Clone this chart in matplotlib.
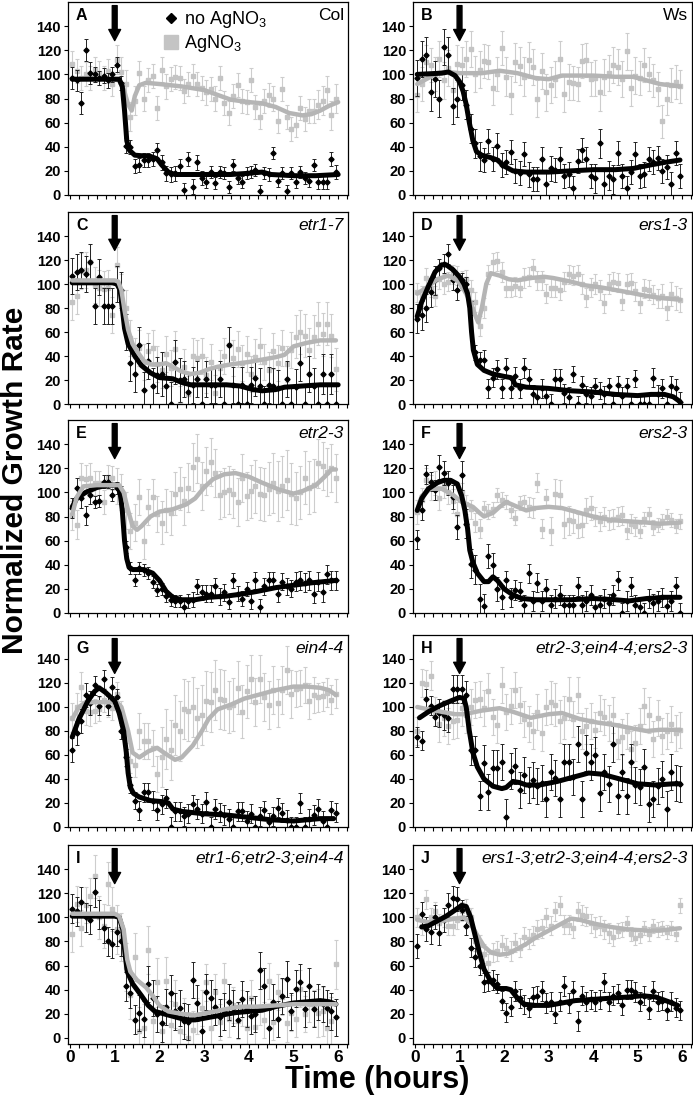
import numpy as np
import matplotlib.pyplot as plt
from matplotlib.lines import Line2D
from matplotlib.ticker import MultipleLocator

plt.rcParams['font.family'] = ['Liberation Sans', 'DejaVu Sans']
plt.rcParams['mathtext.default'] = 'regular'

W, H = 693, 1098

# one reading every 6 min
t = np.arange(0.05, 6.0, 0.1)

# ---- A: Col ----
a_dark = [97, 95, 76, 120, 101, 100, 97, 99, 95, 100,
          108, 93, 41, 40, 24, 25, 29, 29, 30, 37,
          27, 18, 17, 18, 24, 4, 30, 7, 27, 14,
          11, 19, 10, 19, 18, 7, 25, 14, 11, 18,
          19, 21, 3, 18, 17, 35, 12, 18, 3, 18,
          11, 19, 14, 12, 25, 11, 11, 11, 30, 19]
a_dark_err = [9, 6, 6, 6, 6, 6, 5, 5, 5, 5, 5, 6]
a_grey = [109, 103, 97, 100, 97, 104, 101, 97, 103, 92,
          112, 102, 92, 65, 78, 101, 80, 95, 99, 72,
          104, 90, 96, 98, 97, 86, 92, 99, 92, 89,
          85, 88, 80, 97, 76, 68, 82, 91, 78, 77,
          95, 73, 65, 78, 83, 80, 61, 88, 65, 55,
          58, 72, 63, 70, 70, 75, 78, 87, 66, 80]
a_grey_err = [10, 10, 12, 10, 10, 10, 10, 10, 10, 10, 10, 12]
a_dark_fit_t = [0.05, 1.1, 1.17, 1.22, 1.27, 1.33, 1.45, 1.8, 1.95, 2.05, 2.2, 2.35, 3.0, 3.6, 4.0, 4.3, 4.5, 5.0, 5.5, 6.0]
a_dark_fit = [96, 96, 90, 70, 45, 37, 33, 32, 30, 25, 19, 17, 17, 17, 18, 19, 17, 16, 16, 17]
a_grey_fit_t = [0.95, 1.1, 1.2, 1.3, 1.38, 1.45, 1.55, 1.7, 2.0, 2.5, 3.0, 3.3, 3.6, 4.0, 4.3, 4.6, 4.9, 5.2, 5.4, 5.6, 5.8, 6.0]
a_grey_fit = [96, 95, 88, 75, 70, 82, 91, 93, 92, 90, 87, 83, 79, 77, 76, 73, 68, 66, 67, 70, 74, 77]

# ---- B: Ws ----
b_dark = [97, 113, 116, 85, 96, 80, 123, 116, 74, 80,
          91, 75, 55, 43, 32, 29, 45, 30, 41, 25,
          27, 36, 20, 18, 34, 17, 13, 13, 30, 9,
          22, 21, 30, 16, 17, 6, 28, 37, 30, 16,
          14, 43, 9, 16, 13, 35, 16, 6, 19, 34,
          16, 17, 30, 27, 31, 20, 23, 9, 35, 16]
b_dark_err = [15, 15, 12, 10, 10, 10, 10, 10, 12, 10, 10, 10]
b_grey = [83, 92, 110, 108, 100, 113, 95, 105, 87, 109,
          108, 113, 121, 100, 104, 111, 110, 89, 100, 122,
          98, 83, 110, 107, 98, 112, 106, 80, 103, 85,
          91, 96, 113, 84, 94, 93, 92, 111, 112, 96,
          97, 85, 98, 101, 108, 106, 96, 119, 89, 99,
          97, 108, 100, 95, 88, 61, 80, 91, 94, 90]
b_grey_err = [14, 15, 15, 14, 16, 15, 15, 14, 15, 15, 14, 14]
b_dark_fit_t = [0.05, 0.6, 0.75, 0.9, 1.0, 1.08, 1.15, 1.22, 1.3, 1.38, 1.5, 1.7, 1.85, 2.0, 2.2, 2.5, 3.0, 3.5, 4.0, 4.5, 4.9, 5.3, 5.6, 5.95]
b_dark_fit = [100, 101, 102, 99, 94, 86, 75, 60, 45, 36, 33, 31, 29, 24, 20, 19, 19, 20, 21, 21, 22, 25, 27, 29]
b_grey_fit_t = [0.05, 0.3, 0.5, 0.7, 1.0, 1.5, 1.9, 2.3, 2.7, 3.0, 3.3, 4.0, 4.5, 4.9, 5.2, 5.5, 5.95]
b_grey_fit = [92, 97, 101, 102, 101, 101, 103, 101, 97, 96, 99, 99, 98, 98, 95, 92, 90]

# ---- C: etr1-7 ----
c_dark = [107, 110, 112, 108, 118, 82, 106, 82, 82, 82,
          100, 95, 60, 34, 25, 49, 12, 36, 15, 24,
          25, 15, 0, 35, 20, 21, 10, 16, 21, 0,
          21, 16, 16, 21, 0, 49, 16, 0, 16, 0,
          16, 22, 15, 0, 16, 15, 13, 0, 21, 0,
          14, 34, 0, 25, 15, 0, 25, 0, 25, 0]
c_dark_err = [15, 15, 15, 15, 18, 15, 15, 15, 15, 15, 15, 17]
c_grey = [85, 90, 111, 112, 118, 99, 97, 96, 97, 74,
          116, 93, 80, 55, 40, 47, 35, 44, 47, 33,
          28, 42, 30, 46, 0, 31, 8, 40, 38, 40,
          24, 35, 9, 30, 40, 49, 38, 46, 34, 42,
          25, 39, 48, 35, 28, 44, 34, 47, 33, 45,
          56, 60, 57, 45, 56, 67, 58, 67, 57, 29]
c_grey_err = [15, 15, 15, 15, 15, 15, 15, 15, 15, 15, 18, 18]
c_dark_fit_t = [0.05, 0.95, 1.05, 1.12, 1.17, 1.22, 1.3, 1.45, 1.6, 1.8, 2.0, 2.3, 2.5, 2.7, 3.0, 3.5, 3.8, 4.1, 4.3, 4.6, 4.8, 5.2, 5.6, 6.0]
c_dark_fit = [101, 101, 100, 95, 80, 63, 50, 40, 32, 26, 22, 21, 18, 16, 16, 16, 15, 12, 11, 12, 14, 15, 16, 16]
c_grey_fit_t = [0.05, 1.0, 1.08, 1.15, 1.22, 1.3, 1.4, 1.5, 1.65, 1.8, 2.0, 2.15, 2.3, 2.5, 2.7, 2.9, 3.1, 3.3, 3.6, 4.0, 4.3, 4.6, 4.8, 5.0, 5.3, 5.6, 5.95]
c_grey_fit = [103, 103, 102, 95, 78, 62, 50, 44, 36, 33, 33, 34, 31, 27, 25, 26, 29, 31, 33, 35, 37, 39, 41, 48, 51, 53, 53]

# ---- D: ers1-3 ----
d_dark = [71, 74, 80, 93, 103, 113, 117, 125, 103, 95,
          103, 100, 80, 43, 37, 37, 13, 22, 29, 13,
          30, 13, 23, 13, 30, 21, 8, 6, 13, 7,
          0, 21, 21, 9, 6, 25, 0, 16, 8, 7,
          15, 11, 8, 15, 0, 16, 7, 15, 0, 21,
          0, 0, 0, 22, 8, 13, 0, 15, 13, 2]
d_dark_err = [12, 8, 6, 8, 8, 8, 8, 7, 7, 7, 8, 8]
d_grey = [93, 90, 105, 97, 90, 104, 100, 102, 108, 107,
          103, 104, 95, 85, 65, 80, 108, 118, 119, 110,
          97, 97, 98, 97, 105, 106, 113, 103, 103, 92,
          97, 97, 95, 102, 108, 107, 108, 100, 89, 97,
          100, 95, 84, 100, 102, 101, 86, 100, 101, 94,
          84, 96, 95, 91, 88, 90, 80, 92, 88, 87]
d_grey_err = [8, 8, 8, 8, 8, 8, 8, 8, 8, 8, 8, 10]
d_dark_fit_t = [0.05, 0.15, 0.3, 0.45, 0.6, 0.7, 0.85, 1.0, 1.1, 1.18, 1.23, 1.27, 1.31, 1.4, 1.55, 1.75, 2.0, 2.15, 2.2, 2.25, 2.5, 3.0, 3.5, 4.0, 4.5, 5.0, 5.3, 5.6, 5.8, 5.95]
d_dark_fit = [73, 85, 98, 110, 116, 116, 112, 106, 100, 92, 80, 60, 45, 33, 28, 25, 23, 22, 20, 16, 14, 13, 11, 10, 8, 7, 8, 8, 6, 2]
d_grey_fit_t = [0.05, 0.3, 0.5, 0.75, 0.95, 1.1, 1.25, 1.35, 1.42, 1.5, 1.6, 1.7, 1.9, 2.1, 2.3, 2.6, 2.9, 3.1, 3.5, 3.8, 4.2, 4.5, 4.8, 5.2, 5.6, 5.95]
d_grey_fit = [92, 98, 104, 107, 103, 95, 85, 74, 68, 80, 100, 109, 107, 104, 103, 105, 106, 105, 102, 99, 97, 95, 93, 90, 88, 87]

# ---- E: etr2-3 ----
e_dark = [87, 104, 95, 81, 98, 92, 93, 109, 109, 98,
          104, 100, 55, 37, 27, 37, 36, 33, 26, 19,
          20, 14, 11, 10, 10, 5, 10, 11, 22, 17,
          16, 16, 22, 14, 17, 9, 27, 16, 12, 20,
          10, 27, 5, 22, 27, 27, 16, 26, 22, 20,
          26, 27, 25, 27, 16, 26, 17, 32, 27, 27]
e_dark_err = [8, 5, 5, 5, 5, 6, 7, 6, 7, 7, 8, 8]
e_grey = [81, 73, 112, 111, 112, 108, 108, 92, 113, 112,
          105, 100, 85, 68, 75, 96, 60, 88, 96, 82,
          75, 85, 83, 99, 103, 93, 104, 121, 128, 105,
          118, 125, 116, 98, 100, 102, 99, 92, 112, 97,
          101, 105, 99, 98, 103, 108, 101, 105, 110, 99,
          95, 100, 112, 104, 106, 124, 122, 117, 120, 112]
e_grey_err = [12, 10, 15, 15, 18, 20, 20, 20, 22, 25, 22, 20]
e_dark_fit_t = [0.05, 0.15, 0.35, 0.6, 0.85, 1.05, 1.12, 1.17, 1.22, 1.27, 1.32, 1.4, 1.65, 1.85, 2.0, 2.15, 2.3, 2.5, 2.8, 3.1, 3.5, 3.9, 4.2, 4.6, 5.0, 5.4, 5.95]
e_dark_fit = [88, 95, 100, 104, 106, 106, 100, 85, 60, 45, 38, 36, 36, 33, 27, 18, 13, 11, 11, 13, 14, 16, 18, 21, 23, 25, 27]
e_grey_fit_t = [0.05, 0.15, 0.3, 0.6, 1.1, 1.2, 1.3, 1.4, 1.5, 1.6, 1.8, 2.0, 2.3, 2.6, 2.8, 3.0, 3.2, 3.45, 3.7, 4.0, 4.3, 4.7, 5.0, 5.2, 5.5, 5.7, 5.85, 5.95]
e_grey_fit = [82, 96, 105, 106, 106, 100, 85, 72, 69, 72, 80, 84, 86, 90, 95, 104, 111, 115, 116, 113, 108, 102, 99, 101, 106, 113, 119, 119]

# ---- F: ers2-3 ----
f_dark = [61, 85, 115, 109, 102, 121, 116, 108, 96, 71,
          114, 74, 41, 36, 12, 6, 47, 40, 20, 13,
          27, 13, 19, 18, 7, 33, 10, 25, 10, 20,
          7, 12, 15, 7, 7, 7, 22, 7, 10, 15,
          5, 7, 12, 8, 15, 27, 0, 10, 22, 7,
          5, 0, 12, 8, 10, 13, 6, 10, 22, 0]
f_dark_err = [8, 10, 12, 10, 8, 8, 8, 8, 8, 8, 8, 8]
f_grey = [84, 94, 110, 104, 108, 95, 105, 100, 93, 82,
          100, 90, 86, 75, 70, 87, 84, 86, 98, 94,
          92, 85, 79, 91, 92, 88, 87, 108, 70, 95,
          68, 99, 98, 74, 77, 76, 72, 73, 85, 87,
          80, 76, 80, 77, 78, 80, 81, 69, 74, 72,
          68, 78, 82, 71, 73, 76, 80, 77, 72, 76]
f_grey_err = [10, 10, 8, 6, 6, 8, 12, 10, 8, 8, 6, 6]
f_dark_fit_t = [0.05, 0.15, 0.3, 0.5, 0.65, 0.8, 0.95, 1.05, 1.12, 1.18, 1.23, 1.3, 1.4, 1.55, 1.65, 1.75, 1.85, 2.0, 2.2, 2.4, 2.7, 3.5, 4.0, 4.5, 4.8, 5.2, 5.6, 5.95]
f_dark_fit = [85, 95, 103, 108, 110, 110, 107, 97, 85, 70, 52, 42, 33, 26, 26, 30, 27, 20, 15, 12, 11, 11, 12, 11, 10, 12, 13, 13]
f_grey_fit_t = [0.05, 0.15, 0.35, 0.6, 0.85, 1.05, 1.3, 1.45, 1.55, 1.75, 1.9, 2.05, 2.3, 2.5, 2.7, 3.0, 3.3, 3.6, 4.0, 4.4, 4.8, 5.2, 5.5, 5.95]
f_grey_fit = [85, 97, 103, 103, 98, 92, 88, 83, 80, 83, 88, 92, 88, 85, 87, 88, 87, 84, 80, 77, 76, 75, 74, 75]

# ---- G: ein4-4 ----
g_dark = [64, 78, 88, 110, 103, 118, 101, 123, 101, 117,
          108, 80, 58, 35, 22, 14, 29, 29, 22, 14,
          19, 24, 0, 13, 13, 9, 11, 19, 15, 11,
          21, 0, 15, 12, 10, 7, 0, 13, 13, 5,
          11, 0, 9, 14, 4, 9, 16, 12, 6, 0,
          0, 20, 0, 7, 10, 15, 5, 0, 14, 12]
g_dark_err = [10, 8, 7, 8, 8, 8, 8, 8, 8, 8, 8, 8]
g_grey = [91, 100, 117, 97, 96, 97, 98, 106, 102, 99,
          111, 95, 60, 55, 52, 80, 72, 72, 66, 44,
          58, 73, 64, 85, 80, 98, 97, 100, 91, 93,
          105, 104, 114, 107, 106, 100, 102, 116, 96, 113,
          123, 104, 123, 108, 102, 114, 103, 114, 131, 111,
          115, 116, 118, 105, 110, 108, 109, 112, 106, 111]
g_grey_err = [12, 10, 10, 15, 25, 25, 25, 22, 20, 20, 15, 12]
g_dark_fit_t = [0.05, 0.2, 0.4, 0.55, 0.65, 0.8, 1.0, 1.1, 1.2, 1.26, 1.3, 1.35, 1.42, 1.55, 1.8, 2.1, 2.2, 2.3, 2.5, 3.0, 3.5, 4.0, 4.5, 5.0, 5.3, 5.6, 5.9]
g_dark_fit = [75, 90, 105, 113, 116, 112, 105, 95, 80, 62, 45, 33, 28, 25, 22, 21, 20, 15, 13, 11, 10, 8, 6, 5, 6, 7, 7]
g_grey_fit_t = [0.05, 0.2, 0.35, 1.05, 1.15, 1.3, 1.4, 1.55, 1.75, 1.95, 2.1, 2.35, 2.5, 2.75, 2.95, 3.1, 3.3, 3.6, 3.9, 4.2, 4.6, 5.0, 5.3, 5.6, 5.8, 5.95]
g_grey_fit = [90, 100, 104, 104, 100, 80, 62, 58, 63, 66, 62, 56, 58, 68, 80, 90, 98, 102, 107, 110, 114, 117, 117, 116, 114, 110]

# ---- H: etr2-3;ein4-4;ers2-3 ----
h_dark = [75, 72, 107, 101, 92, 95, 93, 91, 115, 115,
          115, 110, 64, 64, 26, 53, 29, 49, 49, 54,
          8, 47, 51, 31, 43, 35, 39, 34, 37, 23,
          46, 41, 23, 54, 54, 42, 69, 23, 62, 54,
          60, 28, 46, 36, 69, 26, 46, 26, 54, 35,
          33, 50, 19, 23, 34, 40, 15, 46, 37, 36]
h_dark_err = [8, 12, 12, 15, 15, 15, 15, 15, 15, 15, 15, 15]
h_grey = [80, 120, 119, 126, 96, 86, 91, 84, 88, 89,
          99, 93, 100, 106, 107, 99, 113, 92, 85, 118,
          96, 101, 114, 102, 90, 86, 80, 96, 78, 100,
          104, 102, 88, 91, 107, 90, 110, 80, 84, 88,
          81, 95, 92, 87, 93, 72, 75, 80, 65, 70,
          84, 101, 93, 73, 91, 76, 80, 86, 78, 81]
h_grey_err = [12, 15, 15, 15, 15, 15, 18, 15, 15, 15, 15, 15]
h_dark_fit_t = [0.1, 0.3, 0.55, 0.8, 1.0, 1.1, 1.15, 1.22, 1.3, 1.4, 1.55, 1.75, 1.95, 2.05, 2.2, 2.35, 2.5, 2.8, 3.2, 3.6, 3.9, 4.2, 4.6, 5.0, 5.4, 5.8, 5.95]
h_dark_fit = [91, 96, 101, 105, 108, 107, 100, 80, 62, 50, 40, 34, 32, 33, 38, 37, 35, 35, 38, 42, 45, 44, 40, 36, 35, 36, 36]
h_grey_fit_t = [0.05, 0.3, 0.6, 0.9, 1.1, 1.5, 1.9, 2.2, 2.6, 3.0, 3.3, 3.7, 4.1, 4.5, 4.9, 5.2, 5.5, 5.95]
h_grey_fit = [100, 98, 96, 94, 94, 97, 99, 96, 91, 94, 95, 90, 87, 85, 82, 80, 81, 81]

# ---- I: etr1-6;etr2-3;ein4-4 ----
i_dark = [107, 105, 113, 100, 98, 121, 102, 91, 80, 78,
          88, 80, 43, 37, 15, 21, 16, 45, 33, 20,
          12, 26, 37, 22, 25, 14, 13, 48, 29, 6,
          38, 33, 26, 17, 22, 30, 25, 15, 32, 24,
          18, 20, 56, 43, 8, 30, 16, 35, 49, 22,
          41, 46, 24, 43, 24, 30, 28, 25, 22, 17]
i_dark_err = [12, 12, 12, 15, 15, 15, 15, 15, 15, 15, 15, 15]
i_grey = [86, 111, 91, 110, 118, 134, 100, 93, 128, 107,
          90, 84, 59, 36, 67, 6, 8, 73, 14, 46,
          6, 47, 11, 28, 6, 18, 0, 7, 18, 25,
          46, 8, 38, 13, 47, 16, 27, 14, 25, 8,
          33, 9, 26, 15, 47, 13, 38, 34, 12, 21,
          16, 41, 20, 28, 25, 21, 22, 8, 14, 61]
i_grey_err = [15, 18, 20, 20, 20, 15, 15, 15, 15, 15, 15, 20]
i_dark_fit_t = [0.05, 1.0, 1.1, 1.18, 1.23, 1.28, 1.4, 1.6, 1.75, 1.9, 2.1, 2.3, 2.5, 2.65, 2.8, 3.1, 3.4, 3.7, 4.0, 4.3, 4.6, 5.0, 5.3, 5.6, 5.8, 5.95]
i_dark_fit = [101, 101, 100, 90, 70, 55, 45, 35, 27, 22, 20, 18, 16, 15, 15, 17, 19, 21, 22, 23, 26, 29, 30, 31, 30, 28]
i_grey_fit_t = [0.05, 1.0, 1.1, 1.2, 1.28, 1.35, 1.5, 1.7, 1.85, 2.0, 2.2, 2.5, 2.8, 3.1, 3.5, 3.8, 4.2, 4.6, 5.0, 5.5, 5.95]
i_grey_fit = [103, 103, 101, 90, 65, 55, 48, 42, 35, 27, 22, 20, 19, 21, 24, 26, 26, 27, 28, 28, 28]

# ---- J: ers1-3;etr2-3;ein4-4;ers2-3 ----
j_dark = [76, 103, 90, 88, 100, 87, 98, 110, 116, 115,
          106, 93, 75, 67, 60, 46, 47, 48, 45, 31,
          21, 26, 39, 33, 28, 25, 34, 35, 39, 29,
          30, 20, 30, 43, 29, 39, 14, 35, 30, 32,
          30, 32, 46, 30, 35, 37, 27, 40, 40, 38,
          30, 35, 24, 39, 30, 31, 23, 30, 25, 23]
j_dark_err = [10, 10, 8, 8, 8, 8, 8, 8, 8, 8, 8, 8]
j_grey = [100, 93, 115, 100, 105, 95, 100, 93, 93, 98,
          105, 107, 100, 80, 77, 70, 62, 71, 72, 77,
          75, 72, 79, 75, 84, 82, 85, 90, 91, 100,
          93, 105, 110, 94, 94, 91, 105, 102, 101, 95,
          92, 93, 90, 87, 84, 89, 90, 95, 86, 83,
          85, 91, 86, 93, 90, 91, 88, 91, 86, 110]
j_grey_err = [8, 8, 8, 8, 8, 8, 8, 8, 8, 6, 6, 6]
j_dark_fit_t = [0.15, 0.3, 0.5, 0.7, 0.9, 1.05, 1.15, 1.25, 1.35, 1.45, 1.55, 1.7, 1.85, 2.05, 2.15, 2.3, 2.45, 2.7, 3.0, 3.3, 3.6, 4.0, 4.4, 4.8, 5.1, 5.4, 5.7, 5.9]
j_dark_fit = [92, 93, 97, 101, 106, 110, 109, 100, 85, 70, 57, 47, 41, 41, 40, 33, 28, 27, 27, 29, 31, 32, 33, 34, 35, 34, 30, 27]
j_grey_fit_t = [0.05, 0.3, 0.6, 0.9, 1.1, 1.25, 1.4, 1.55, 1.7, 1.9, 2.1, 2.3, 2.5, 2.7, 3.0, 3.3, 3.5, 3.7, 4.0, 4.4, 4.8, 5.2, 5.5, 5.95]
j_grey_fit = [98, 96, 97, 99, 100, 95, 85, 76, 71, 69, 70, 74, 78, 83, 89, 95, 99, 98, 95, 92, 90, 89, 89, 91]

# letter, genotype, italic, grey line on top, data...
panels = [
    ('A', 'Col', False, False, a_dark, a_dark_err, a_grey, a_grey_err, a_dark_fit_t, a_dark_fit, a_grey_fit_t, a_grey_fit),
    ('B', 'Ws', False, False, b_dark, b_dark_err, b_grey, b_grey_err, b_dark_fit_t, b_dark_fit, b_grey_fit_t, b_grey_fit),
    ('C', 'etr1-7', True, True, c_dark, c_dark_err, c_grey, c_grey_err, c_dark_fit_t, c_dark_fit, c_grey_fit_t, c_grey_fit),
    ('D', 'ers1-3', True, False, d_dark, d_dark_err, d_grey, d_grey_err, d_dark_fit_t, d_dark_fit, d_grey_fit_t, d_grey_fit),
    ('E', 'etr2-3', True, True, e_dark, e_dark_err, e_grey, e_grey_err, e_dark_fit_t, e_dark_fit, e_grey_fit_t, e_grey_fit),
    ('F', 'ers2-3', True, False, f_dark, f_dark_err, f_grey, f_grey_err, f_dark_fit_t, f_dark_fit, f_grey_fit_t, f_grey_fit),
    ('G', 'ein4-4', True, False, g_dark, g_dark_err, g_grey, g_grey_err, g_dark_fit_t, g_dark_fit, g_grey_fit_t, g_grey_fit),
    ('H', 'etr2-3;ein4-4;ers2-3', True, False, h_dark, h_dark_err, h_grey, h_grey_err, h_dark_fit_t, h_dark_fit, h_grey_fit_t, h_grey_fit),
    ('I', 'etr1-6;etr2-3;ein4-4', True, True, i_dark, i_dark_err, i_grey, i_grey_err, i_dark_fit_t, i_dark_fit, i_grey_fit_t, i_grey_fit),
    ('J', 'ers1-3;etr2-3;ein4-4;ers2-3', True, False, j_dark, j_dark_err, j_grey, j_grey_err, j_dark_fit_t, j_dark_fit, j_grey_fit_t, j_grey_fit),
]

DOT_GREY = '#c4c4c4'
LINE_GREY = '#b5b5b5'

fig = plt.figure(figsize=(W / 100, H / 100), dpi=100)

col_px = [(68, 348), (413, 692)]
row_px = [(2, 195), (212, 404), (420, 613), (635, 827), (845, 1044)]

for k, p in enumerate(panels):
    letter, geno, ital, grey_top, dk, dk_e, gr, gr_e, dft, dfy, gft, gfy = p
    row, col = k // 2, k % 2
    x0, x1 = col_px[col]
    y0, y1 = row_px[row]
    ax = fig.add_axes([x0 / W, 1 - y1 / H, (x1 - x0) / W, (y1 - y0) / H])
    bottom = row == len(row_px) - 1

    ax.errorbar(t, gr, yerr=np.repeat(gr_e, 5), fmt='s', ms=2.8, color=DOT_GREY,
                ecolor='#cdcdcd', elinewidth=0.8, capsize=1.5, capthick=0.8, zorder=1)
    ax.errorbar(t, dk, yerr=np.repeat(dk_e, 5), fmt='D', ms=2.6, color='k',
                ecolor='#222222', elinewidth=0.7, capsize=1.5, capthick=0.7, zorder=2)
    ax.plot(dft, dfy, color='k', lw=3.6, solid_joinstyle='round',
            solid_capstyle='round', zorder=4 if not grey_top else 3)
    ax.plot(gft, gfy, color=LINE_GREY, lw=3.2, solid_joinstyle='round',
            solid_capstyle='round', zorder=3 if not grey_top else 4)

    ax.annotate('', xy=(1, 128), xytext=(1, 157),
                arrowprops=dict(facecolor='k', edgecolor='k', width=3.5,
                                headwidth=8.5, headlength=8, shrink=0),
                annotation_clip=False, zorder=6)

    ax.set_xlim(-0.045, 6.22)
    ax.set_ylim(-5 if bottom else 0, 160)
    ax.set_xticks(range(7))
    ax.xaxis.set_minor_locator(MultipleLocator(0.2))
    ax.set_yticks(range(0, 141, 20))
    ax.tick_params(axis='both', which='both', direction='out', length=3, width=0.8)
    ax.tick_params(axis='y', labelsize=10.5, pad=2)
    for lab in ax.get_yticklabels():
        lab.set_fontweight('bold')
    if bottom:
        ax.tick_params(axis='x', labelsize=12.5, pad=1)
        for lab in ax.get_xticklabels():
            lab.set_fontweight('bold')
    else:
        ax.tick_params(axis='x', labelbottom=False)
    for s in ax.spines.values():
        s.set_linewidth(0.9)

    ax.annotate(letter, xy=(0, 1), xycoords='axes fraction', xytext=(8, -6),
                textcoords='offset pixels', ha='left', va='top',
                fontsize=11.5, fontweight='bold')
    ax.annotate(geno, xy=(1, 1), xycoords='axes fraction', xytext=(-4, -6),
                textcoords='offset pixels', ha='right', va='top',
                fontsize=12.5, style='italic' if ital else 'normal')

    if letter == 'A':
        handles = [Line2D([], [], marker='D', color='k', ls='none', ms=5),
                   Line2D([], [], marker='s', color=DOT_GREY, ls='none', ms=10)]
        ax.legend(handles, ['no AgNO$_3$', 'AgNO$_3$'], loc='upper left',
                  bbox_to_anchor=(0.31, 1.0), frameon=False, fontsize=13,
                  handletextpad=0.2, labelspacing=0.15, borderaxespad=0,
                  handlelength=1.0)

fig.text(15 / W, 1 - 480 / H, 'Normalized Growth Rate', rotation=90,
         fontsize=21.5, fontweight='bold', ha='center', va='center')
fig.text(377 / W, 1 - 1080 / H, 'Time (hours)', fontsize=22,
         fontweight='bold', ha='center', va='center')

fig.savefig('out.png', dpi=100)
